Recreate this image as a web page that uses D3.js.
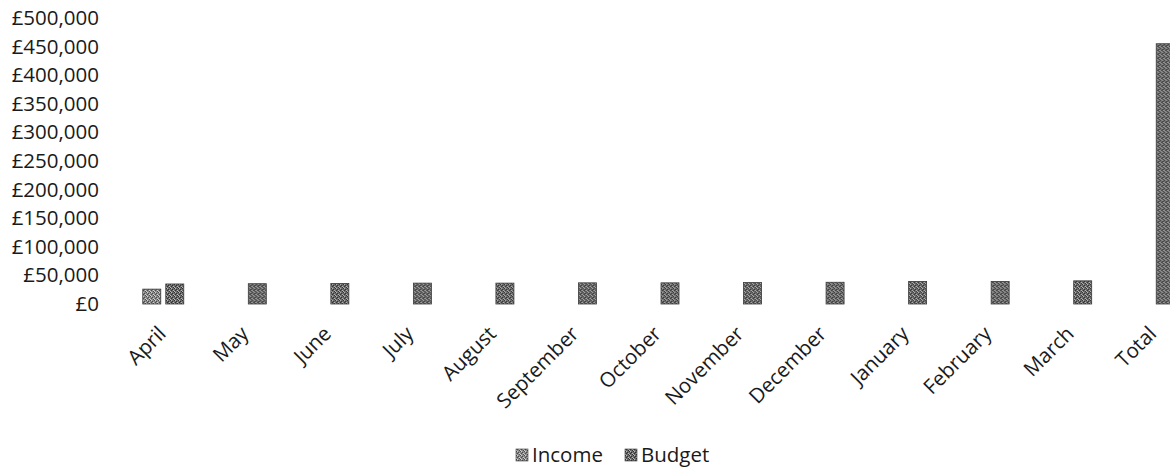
<!DOCTYPE html>
<html>
<head>
<meta charset="utf-8">
<script src="https://cdn.jsdelivr.net/npm/d3@7"></script>
<style>
  body { margin: 0; background: #fff; }
  text { font-family: "Open Sans", sans-serif; fill: #1a1a1a; }
</style>
</head>
<body>
<div id="container"></div>
<script>
// chart data
var categories = ["April", "May", "June", "July", "August", "September", "October",
  "November", "December", "January", "February", "March", "Total"];
var income = [26000, null, null, null, null, null, null, null, null, null, null, null, null];
var budget = [35000, 35500, 36000, 36500, 36500, 37000, 37000, 37500, 38000, 39500, 39500, 40500, 455000];
var seriesNames = ["Income", "Budget"];
var yTicks = [0, 50000, 100000, 150000, 200000, 250000, 300000, 350000, 400000, 450000, 500000];

let width = 1170;
let height = 467;
let fontSize = "20.5px";
var svg = d3.select("#container").append("svg");
svg.attr("width", width).attr("height", height);

// dithered grey fills, like the scanned bars
var defs = svg.append("defs");
function makePattern(id, base, dark, light) {
  var p = defs.append("pattern")
    .attr("id", id)
    .attr("patternUnits", "userSpaceOnUse")
    .attr("width", 4).attr("height", 4);
  p.append("rect").attr("width", 4).attr("height", 4).attr("fill", base);
  [[0, 0], [2, 1], [1, 2], [3, 3]].forEach(function(d) {
    p.append("rect").attr("x", d[0]).attr("y", d[1]).attr("width", 1).attr("height", 1).attr("fill", dark);
  });
  [[1, 0], [3, 2], [0, 3]].forEach(function(d) {
    p.append("rect").attr("x", d[0]).attr("y", d[1]).attr("width", 1).attr("height", 1).attr("fill", light);
  });
}
makePattern("pat-income", "#8c8c8c", "#4a4a4a", "#d0d0d0");
makePattern("pat-budget", "#6c6c6c", "#2e2e2e", "#b8b8b8");
var fills = { Income: "url(#pat-income)", Budget: "url(#pat-budget)" };

var x0 = d3.scaleBand().domain(categories).range([122, 1195]).padding(0);
var x1 = d3.scaleBand().domain(seriesNames)
  .range([x0.bandwidth() / 2 - 20.5, x0.bandwidth() / 2 + 20.5])
  .paddingInner(5 / 23).paddingOuter(0);
var y = d3.scaleLinear().domain([0, 500000]).range([304, 18]);

// y axis labels
var yAxis = d3.axisLeft(y)
  .tickValues(yTicks)
  .tickSize(0)
  .tickPadding(0)
  .tickFormat(function(d) { return "£" + d3.format(",")(d); });
var ya = svg.append("g").attr("transform", "translate(99,0)").call(yAxis);
ya.select(".domain").remove();
ya.selectAll("text").style("font-family", "Open Sans, sans-serif")
  .style("font-size", fontSize).attr("fill", "#1a1a1a");

// bars
var rows = categories.map(function(c, i) {
  return { cat: c, vals: [{ key: "Income", v: income[i] }, { key: "Budget", v: budget[i] }] };
});
var groups = svg.append("g").selectAll("g")
  .data(rows).enter().append("g")
  .attr("transform", function(d) { return "translate(" + x0(d.cat) + ",0)"; });

groups.selectAll("rect")
  .data(function(d) { return d.vals.filter(function(v) { return v.v != null; }); })
  .enter().append("rect")
  .attr("x", function(d) { return x1(d.key); })
  .attr("width", x1.bandwidth())
  .attr("y", function(d) { return y(d.v); })
  .attr("height", function(d) { return y(0) - y(d.v); })
  .attr("fill", function(d) { return fills[d.key]; })
  .attr("stroke", "#3a3a3a")
  .attr("stroke-width", 0.8);

// category labels, rotated
svg.append("g").selectAll("text")
  .data(categories).enter().append("text")
  .attr("transform", function(d) {
    return "translate(" + (x0(d) + x0.bandwidth() / 2 + 4) + ",335) rotate(-45)";
  })
  .attr("text-anchor", "end")
  .style("font-size", fontSize)
  .text(function(d) { return d; });

// legend
var legend = svg.append("g").attr("transform", "translate(516,455)");
var li = legend.selectAll("g").data(seriesNames).enter().append("g")
  .attr("transform", function(d, i) { return "translate(" + (i * 109) + ",0)"; });
li.append("rect")
  .attr("x", 0).attr("y", -6).attr("width", 12).attr("height", 12)
  .attr("fill", function(d) { return fills[d]; })
  .attr("stroke", "#3a3a3a").attr("stroke-width", 0.6);
li.append("text")
  .attr("x", 16).attr("y", 0).attr("dy", "0.35em")
  .style("font-size", fontSize)
  .text(function(d) { return d; });
</script>
</body>
</html>
